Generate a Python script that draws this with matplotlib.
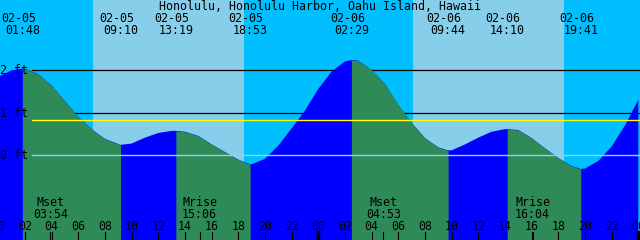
"""Tide chart: Honolulu Harbor, 02-05 .. 02-06 (predicted heights in ft)."""

import matplotlib
matplotlib.use("Agg")
import matplotlib.pyplot as plt
import numpy as np

TITLE = "Honolulu, Honolulu Harbor, Oahu Island, Hawaii"

# hourly tide heights (ft), hour 0 = 02-05 00:00
hours = list(range(49))
height_ft = [1.85, 2.00, 2.04, 1.91, 1.64, 1.27, 0.90, 0.61, 0.38, 0.26,
             0.27, 0.41, 0.52, 0.57, 0.55, 0.45, 0.25, 0.07, -0.11, -0.22,
             -0.09, 0.22, 0.63, 1.05, 1.56, 1.97, 2.21, 2.23, 2.01, 1.68,
             1.18, 0.76, 0.40, 0.18, 0.11, 0.25, 0.41, 0.55, 0.61, 0.59,
             0.40, 0.16, -0.07, -0.26, -0.32, -0.14, 0.20, 0.70, 1.30]

# high / low tide events
ext_dates = ["02-05", "02-05", "02-05", "02-05", "02-06", "02-06", "02-06", "02-06"]
ext_times = ["01:48", "09:10", "13:19", "18:53", "02:29", "09:44", "14:10", "19:41"]
ext_ft = [2.04, 0.24, 0.57, -0.22, 2.24, 0.11, 0.61, -0.33]
ext_kind = ["H", "L", "H", "L", "H", "L", "H", "L"]

# moon events
moon_names = ["Mset", "Mrise", "Mset", "Mrise"]
moon_times = ["03:54", "15:06", "04:53", "16:04"]
moon_day = [0, 0, 1, 1]

# daylight (sunrise, sunset) in hours
sun_rise = [7.10, 31.10]
sun_set = [18.43, 42.43]

levels_ft = [2, 1, 0]
mean_level_ft = 0.82

NIGHT, DAY = "#00bfff", "#87ceeb"
FLOOD, EBB = "#0000ff", "#2e8b57"
FONT = "DejaVu Sans Mono"
FS = 8.4


def to_hours(hhmm, day):
    h, m = hhmm.split(":")
    return 24 * day + int(h) + int(m) / 60


ext_day = [0 if d == "02-05" else 1 for d in ext_dates]
ext_hours = [to_hours(t, d) for t, d in zip(ext_times, ext_day)]
moon_hours = [to_hours(t, d) for t, d in zip(moon_times, moon_day)]

# merge hourly readings with the extremes so the fills split exactly there
tt = np.array(hours + ext_hours, dtype=float)
hh = np.array(height_ft + ext_ft, dtype=float)
order = np.argsort(tt)
tt, hh = tt[order], hh[order]

fig = plt.figure(figsize=(6.4, 2.4), dpi=100)
ax = fig.add_axes([0, 0, 1, 1])
x0 = 1.7 / 13.333
ax.set_xlim(x0, 48 + x0)
y_bot, y_top = (155 - 240) / 42.35, 155 / 42.35
ax.set_ylim(y_bot, y_top)
ax.set_axis_off()

# sky
ax.axvspan(x0, 48 + x0, color=NIGHT, lw=0, zorder=0)
for a, b in zip(sun_rise, sun_set):
    ax.axvspan(a, b, color=DAY, lw=0, zorder=0.5)

# reference levels behind the water
for lv in levels_ft[:2]:
    ax.axhline(lv, xmin=0.05, xmax=1, color="black", lw=0.9, zorder=1)

# water: flood blue, ebb green
ax.fill_between(tt, y_bot, hh, color=FLOOD, lw=0, zorder=2)
for i in range(len(ext_hours) - 1):
    if ext_kind[i] == "H":
        m = (tt >= ext_hours[i]) & (tt <= ext_hours[i + 1])
        ax.fill_between(tt[m], y_bot, hh[m], color=EBB, lw=0, zorder=2.1)

ax.axhline(mean_level_ft, xmin=0.05, xmax=1, color="#ffff00", lw=1.0, zorder=3)
ax.axhline(0, xmin=0.05, xmax=1, color="#8fd3ea", lw=1.0, zorder=3)

for lv in levels_ft:
    ax.text(x0 + 0.02, lv - 0.095, f"{lv} ft", family=FONT, fontsize=FS,
            ha="left", va="baseline", zorder=5)

xt = ax.get_xaxis_transform()
ax.text(24 + x0, 0.958, TITLE, transform=xt, family=FONT, fontsize=FS,
        ha="center", va="baseline", zorder=5)
for d, t, x in zip(ext_dates, ext_times, ext_hours):
    ax.text(x - 0.3, 0.9083, d, transform=xt, family=FONT, fontsize=FS,
            ha="center", va="baseline", zorder=5)
    ax.text(x, 0.8583, t, transform=xt, family=FONT, fontsize=FS,
            ha="center", va="baseline", zorder=5)

for n, t, x in zip(moon_names, moon_times, moon_hours):
    ax.text(x, 0.1417, n, transform=xt, family=FONT, fontsize=FS,
            ha="center", va="baseline", zorder=5)
    ax.text(x, 0.0917, t, transform=xt, family=FONT, fontsize=FS,
            ha="center", va="baseline", zorder=5)
    ax.axvline(x, ymin=0, ymax=8 / 240, color="black", lw=0.8, zorder=5)

# hour axis along the bottom
for h in range(0, 49, 2):
    ax.text(h, 0.0417, f"{h % 24:02d}", transform=xt, family=FONT,
            fontsize=FS, ha="center", va="baseline", zorder=5)
    lw = 2.5 if h % 24 == 0 else 0.8
    ax.axvline(h, ymin=0, ymax=8 / 240, color="black", lw=lw, zorder=5)

fig.savefig("out.png", dpi=100)
plt.close(fig)
